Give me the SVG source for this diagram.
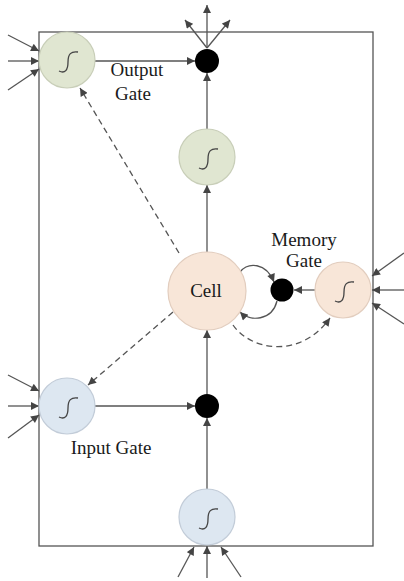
<svg xmlns="http://www.w3.org/2000/svg" width="404" height="581" viewBox="0 0 404 581">
<defs>
<marker id="ah" viewBox="0 0 10 10" refX="10" refY="5" markerWidth="9" markerHeight="8" markerUnits="userSpaceOnUse" orient="auto">
<path d="M0,0 L10,5 L0,10 Z" fill="#444"/>
</marker>
<path id="sig" d="M-8,11 C-2,14 1,10 1,2 C1,-6 4,-9 11,-8" fill="none" stroke="#444" stroke-width="1.3"/>
</defs>
<style>
.ln{stroke:#555;stroke-width:1.3;fill:none}
.dash{stroke-dasharray:6 4}
.green{fill:#e0e6d1;stroke:#c8ceb8;stroke-width:1.2}
.peach{fill:#f8e6d8;stroke:#e2cdbe;stroke-width:1.2}
.blue{fill:#dde7f1;stroke:#c2ccd8;stroke-width:1.2}
.dot{fill:#000}
.t{font-family:"Liberation Serif","Times New Roman",serif;font-size:19px;fill:#1a1a1a;text-anchor:middle}
</style>
<rect x="39" y="32" width="334" height="514" fill="none" stroke="#555" stroke-width="1.3"/>
<g id="connectors">
<line class="ln" x1="8" y1="35" x2="39" y2="51" marker-end="url(#ah)"/>
<line class="ln" x1="8" y1="61" x2="39" y2="61" marker-end="url(#ah)"/>
<line class="ln" x1="8" y1="90" x2="39" y2="69" marker-end="url(#ah)"/>
<line class="ln" x1="8" y1="375" x2="39" y2="391" marker-end="url(#ah)"/>
<line class="ln" x1="8" y1="406" x2="39" y2="406" marker-end="url(#ah)"/>
<line class="ln" x1="8" y1="438" x2="39" y2="415" marker-end="url(#ah)"/>
<line class="ln" x1="404" y1="253" x2="372" y2="276" marker-end="url(#ah)"/>
<line class="ln" x1="404" y1="290" x2="372" y2="290" marker-end="url(#ah)"/>
<line class="ln" x1="404" y1="324" x2="372" y2="303" marker-end="url(#ah)"/>
<line class="ln" x1="178" y1="577" x2="194" y2="547" marker-end="url(#ah)"/>
<line class="ln" x1="207" y1="578" x2="207" y2="546" marker-end="url(#ah)"/>
<line class="ln" x1="241" y1="577" x2="221" y2="547" marker-end="url(#ah)"/>
<line class="ln" x1="207" y1="48" x2="207" y2="5" marker-end="url(#ah)"/>
<line class="ln" x1="207" y1="48" x2="185" y2="20" marker-end="url(#ah)"/>
<line class="ln" x1="207" y1="48" x2="230" y2="20" marker-end="url(#ah)"/>
<line class="ln" x1="95" y1="61" x2="195" y2="61" marker-end="url(#ah)"/>
<line class="ln" x1="207" y1="129" x2="207" y2="73" marker-end="url(#ah)"/>
<line class="ln" x1="207" y1="252" x2="207" y2="185" marker-end="url(#ah)"/>
<line class="ln dash" x1="179" y1="253" x2="80" y2="88" marker-end="url(#ah)"/>
<line class="ln dash" x1="173" y1="312" x2="88" y2="385" marker-end="url(#ah)"/>
<path class="ln" d="M240,272 C248,262 266,262 274,282" marker-end="url(#ah)"/>
<path class="ln" d="M277,301 C272,321 250,322 240,312" marker-end="url(#ah)"/>
<line class="ln" x1="315" y1="290" x2="294" y2="290" marker-end="url(#ah)"/>
<path class="ln dash" d="M233,325 C250,350 300,360 330,318" marker-end="url(#ah)"/>
<line class="ln" x1="95" y1="406" x2="195" y2="406" marker-end="url(#ah)"/>
<line class="ln" x1="207" y1="394" x2="207" y2="330" marker-end="url(#ah)"/>
<line class="ln" x1="207" y1="489" x2="207" y2="418" marker-end="url(#ah)"/>
</g>
<g id="output-gate">
<circle class="green" cx="67" cy="60" r="28"/>
<use href="#sig" x="67" y="60"/>
<text class="t" x="137" y="76">Output</text>
<text class="t" x="133" y="100">Gate</text>
</g>
<g id="output-dot"><circle class="dot" cx="207" cy="61" r="12"/></g>
<g id="output-squash">
<circle class="green" cx="207" cy="157" r="28"/>
<use href="#sig" x="207" y="157"/>
</g>
<g id="cell">
<circle class="peach" cx="207" cy="291" r="39"/>
<text class="t" x="206" y="297">Cell</text>
</g>
<g id="memory-dot"><circle class="dot" cx="282" cy="290" r="11.5"/></g>
<g id="memory-gate">
<circle class="peach" cx="343" cy="290" r="28"/>
<use href="#sig" x="343" y="290"/>
<text class="t" x="304" y="246">Memory</text>
<text class="t" x="304" y="267">Gate</text>
</g>
<g id="input-gate">
<circle class="blue" cx="67" cy="406" r="28"/>
<use href="#sig" x="67" y="406"/>
<text class="t" x="111" y="454">Input Gate</text>
</g>
<g id="input-dot"><circle class="dot" cx="207" cy="406" r="12"/></g>
<g id="input-squash">
<circle class="blue" cx="207" cy="517" r="28"/>
<use href="#sig" x="207" y="517"/>
</g>
</svg>
